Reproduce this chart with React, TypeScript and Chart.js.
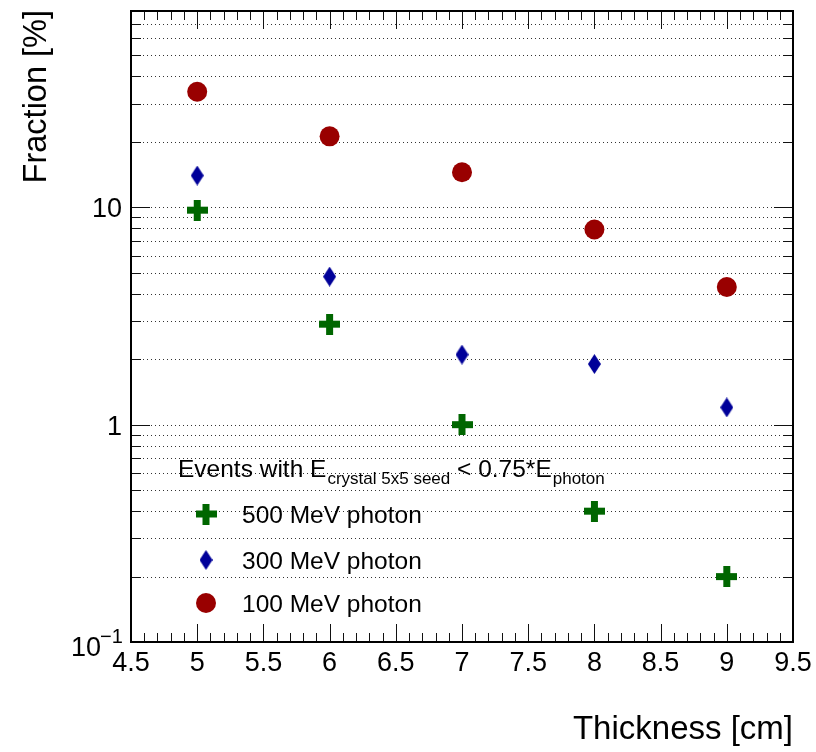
import React, { useEffect, useRef } from "react";
import { Chart, registerables } from "chart.js";

Chart.register(...registerables);

// ---- data ----
const thickness = [5, 6, 7, 8, 9];
const frac500 = [9.7, 2.9, 1.0, 0.4, 0.2];
const frac300 = [14.0, 4.8, 2.1, 1.9, 1.2];
const frac100 = [34.0, 21.2, 14.5, 7.9, 4.3];
const seriesLabels = ["500 MeV photon", "300 MeV photon", "100 MeV photon"];
const xTickValues = [4.5, 5, 5.5, 6, 6.5, 7, 7.5, 8, 8.5, 9, 9.5];
const xTickLabels = ["4.5", "5", "5.5", "6", "6.5", "7", "7.5", "8", "8.5", "9", "9.5"];
const yTickValues = [1, 10];
const yTickLabels = ["1", "10"];
const xTitle = "Thickness [cm]";
const yTitle = "Fraction [%]";
const legendTitleParts = ["Events with E", "crystal 5x5 seed", " < 0.75*E", "photon"];

const X_MIN = 4.5;
const X_MAX = 9.5;
const Y_MIN = 0.1;
const Y_MAX = 80;

const FONT = '"Liberation Sans", Arial, Helvetica, sans-serif';
const GREEN = "#006600";
const BLUE = "#000099";
const RED = "#990000";

function makeDiamond(): HTMLCanvasElement {
  const c = document.createElement("canvas");
  c.width = 13;
  c.height = 20;
  const g = c.getContext("2d")!;
  g.fillStyle = BLUE;
  g.beginPath();
  g.moveTo(6.5, 0);
  g.lineTo(13, 10);
  g.lineTo(6.5, 20);
  g.lineTo(0, 10);
  g.closePath();
  g.fill();
  return c;
}

function makeCross(): HTMLCanvasElement {
  const c = document.createElement("canvas");
  c.width = 21;
  c.height = 21;
  const g = c.getContext("2d")!;
  g.fillStyle = GREEN;
  g.fillRect(0, 7, 21, 7);
  g.fillRect(7, 0, 7, 21);
  return c;
}

export default function App() {
  const ref = useRef<HTMLCanvasElement | null>(null);

  useEffect(() => {
    if (!ref.current) return;
    const diamond = makeDiamond();
    const cross = makeCross();

    const rootPlugin = {
      id: "rootStyle",
      beforeDatasetsDraw(chart: any) {
        const { ctx, chartArea } = chart;
        const ys = chart.scales.y;
        ctx.save();
        ctx.strokeStyle = "#333";
        ctx.lineWidth = 1;
        ctx.setLineDash([1, 3]);
        for (let d = -1; d <= 1; d++) {
          for (let k = 1; k <= 9; k++) {
            const v = k * Math.pow(10, d);
            if (v <= Y_MIN || v > Y_MAX) continue;
            const py = Math.round(ys.getPixelForValue(v)) + 0.5;
            ctx.beginPath();
            ctx.moveTo(chartArea.left, py);
            ctx.lineTo(chartArea.right, py);
            ctx.stroke();
          }
        }
        ctx.restore();
      },
      afterDraw(chart: any) {
        const { ctx, chartArea } = chart;
        const xs = chart.scales.x;
        const ys = chart.scales.y;
        const L = chartArea.left, R = chartArea.right, T = chartArea.top, B = chartArea.bottom;
        ctx.save();
        ctx.strokeStyle = "#111";
        ctx.lineWidth = 1;
        ctx.setLineDash([]);
        // x ticks (every 0.1, major every 0.5)
        for (let i = 0; i <= 50; i++) {
          const v = X_MIN + i * 0.1;
          const px = Math.round(xs.getPixelForValue(v)) + 0.5;
          const len = i % 5 === 0 ? 18 : 9;
          ctx.beginPath();
          ctx.moveTo(px, B);
          ctx.lineTo(px, B - len);
          ctx.moveTo(px, T);
          ctx.lineTo(px, T + len);
          ctx.stroke();
        }
        // y ticks
        for (let d = -1; d <= 1; d++) {
          for (let k = 1; k <= 9; k++) {
            const v = k * Math.pow(10, d);
            if (v < Y_MIN || v > Y_MAX) continue;
            const py = Math.round(ys.getPixelForValue(v)) + 0.5;
            const len = k === 1 ? 19 : 10;
            ctx.beginPath();
            ctx.moveTo(L, py);
            ctx.lineTo(L + len, py);
            ctx.moveTo(R, py);
            ctx.lineTo(R - len, py);
            ctx.stroke();
          }
        }
        // frame
        ctx.strokeStyle = "#000";
        ctx.lineWidth = 2;
        ctx.strokeRect(L, T, R - L, B - T);

        // x tick labels
        ctx.fillStyle = "#000";
        ctx.font = `27px ${FONT}`;
        ctx.textAlign = "center";
        ctx.textBaseline = "alphabetic";
        xTickValues.forEach((v, i) => {
          ctx.fillText(xTickLabels[i], xs.getPixelForValue(v), 671);
        });
        // y tick labels
        ctx.textAlign = "right";
        yTickValues.forEach((v, i) => {
          ctx.fillText(yTickLabels[i], 122, ys.getPixelForValue(v) + 10);
        });
        // 10^-1
        const yb = ys.getPixelForValue(Y_MIN);
        ctx.textAlign = "left";
        ctx.font = `27px ${FONT}`;
        ctx.fillText("10", 71, yb + 14);
        ctx.font = `20px ${FONT}`;
        ctx.fillText("\u22121", 100, yb + 1);

        // axis titles
        ctx.font = `33px ${FONT}`;
        ctx.textAlign = "right";
        ctx.fillText(xTitle, 793, 739);
        ctx.save();
        ctx.translate(46, 10);
        ctx.rotate(-Math.PI / 2);
        ctx.font = `32.5px ${FONT}`;
        ctx.textAlign = "right";
        ctx.fillText(yTitle, 0, 0);
        ctx.restore();

        // legend title with subscripts
        ctx.textAlign = "left";
        let lx = 178;
        const ly = 477;
        const big = `24.5px ${FONT}`;
        const small = `17px ${FONT}`;
        legendTitleParts.forEach((part, i) => {
          const sub = i % 2 === 1;
          ctx.font = sub ? small : big;
          ctx.fillText(part, lx, sub ? ly + 7 : ly);
          lx += ctx.measureText(part).width + (sub ? 0 : 1);
        });

        // legend entries
        const rowsY = [514, 560, 603];
        ctx.font = `24.5px ${FONT}`;
        ctx.drawImage(cross, 206 - 10.5, rowsY[0] - 10.5);
        ctx.drawImage(diamond, 206 - 6.5, rowsY[1] - 10);
        ctx.fillStyle = RED;
        ctx.beginPath();
        ctx.arc(206, rowsY[2], 10, 0, Math.PI * 2);
        ctx.fill();
        ctx.fillStyle = "#000";
        seriesLabels.forEach((lab, i) => {
          ctx.fillText(lab, 242, rowsY[i] + 9);
        });
        ctx.restore();
      },
    };

    const chart = new Chart(ref.current, {
      type: "scatter",
      data: {
        datasets: [
          {
            label: seriesLabels[0],
            data: thickness.map((x, i) => ({ x, y: frac500[i] })),
            pointStyle: cross as any,
            backgroundColor: GREEN,
            borderWidth: 0,
          },
          {
            label: seriesLabels[1],
            data: thickness.map((x, i) => ({ x, y: frac300[i] })),
            pointStyle: diamond as any,
            backgroundColor: BLUE,
            borderWidth: 0,
          },
          {
            label: seriesLabels[2],
            data: thickness.map((x, i) => ({ x, y: frac100[i] })),
            pointStyle: "circle",
            pointRadius: 10,
            backgroundColor: RED,
            borderColor: RED,
            borderWidth: 0,
          },
        ],
      },
      options: {
        animation: false,
        responsive: false,
        maintainAspectRatio: false,
        events: [],
        layout: { padding: { left: 131, top: 11, right: 23, bottom: 110 } },
        plugins: { legend: { display: false }, tooltip: { enabled: false } },
        scales: {
          x: { type: "linear", min: X_MIN, max: X_MAX, display: false },
          y: { type: "logarithmic", min: Y_MIN, max: Y_MAX, display: false },
        },
      },
      plugins: [rootPlugin],
    });
    return () => chart.destroy();
  }, []);

  return (
    <div style={{ position: "absolute", left: 0, top: 0, width: 816, height: 752, background: "#fff" }}>
      <canvas ref={ref} width={816} height={752} style={{ display: "block" }} />
    </div>
  );
}
